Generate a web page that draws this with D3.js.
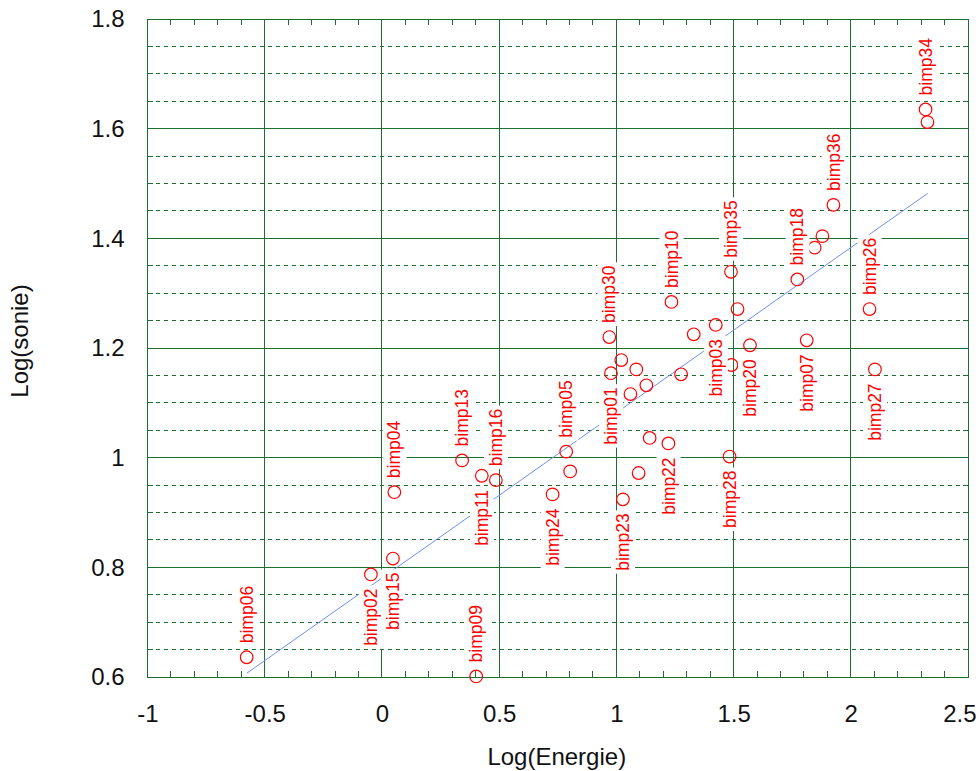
<!DOCTYPE html>
<html lang="fr">
<head>
    <meta charset="UTF-8">
    <title>Log(sonie) vs Log(Energie)</title>
    <script type="text/javascript" src="https://d3js.org/d3.v7.min.js"></script>
    <style>
        body { margin: 0; background: #fff; }
        text { font-family: "Liberation Sans", Arial, sans-serif; }
    </style>
</head>
<body>
    <svg width="979" height="771"></svg>
    <script>
        // points (labels "" = not labelled on the chart)
        var names = ["bimp06","bimp02","bimp15","bimp04","bimp09","bimp13","bimp11","bimp16","bimp24","bimp05",
                     "","bimp23","bimp22","","","bimp28","bimp01","","","",
                     "","","bimp03","","bimp20","bimp07","bimp27","bimp34","","bimp36",
                     "","bimp18","","bimp35","","bimp10","bimp30","","bimp26"];
        var logEnergie = [-0.577,-0.047,0.047,0.053,0.402,0.342,0.426,0.486,0.728,0.786,
                          0.803,1.028,1.222,1.142,1.095,1.483,0.977,1.021,1.085,1.060,
                          1.128,1.276,1.424,1.491,1.570,1.812,2.103,2.319,2.327,1.926,
                          1.879,1.772,1.846,1.489,1.517,1.235,0.970,1.330,2.080];
        var logSonie = [0.636,0.787,0.816,0.937,0.601,0.995,0.967,0.959,0.933,1.011,
                        0.975,0.924,1.026,1.036,0.972,1.002,1.154,1.178,1.161,1.116,
                        1.132,1.152,1.242,1.169,1.205,1.214,1.161,1.635,1.612,1.461,
                        1.404,1.325,1.383,1.339,1.271,1.284,1.220,1.225,1.271];
        // u = label above the point, d = below
        var labelSide = ["u","d","d","u","u","u","d","u","d","u",
                         "","d","d","","","d","d","","","",
                         "","","d","","d","d","d","u","","u",
                         "","u","","u","","u","u","","u"];
        // fitted line end points
        var fitEnergie = [-0.576, 2.328];
        var fitSonie = [0.607, 1.482];

        var xTicks = [-1,-0.5,0,0.5,1,1.5,2,2.5];
        var yTicks = [0.6,0.8,1,1.2,1.4,1.6,1.8];

        var marge = {top:19,bottom:94,left:147.5,right:11};
        var svg = d3.select("svg");
        var width = svg.attr("width") - marge.left - marge.right;
        var height = svg.attr("height") - marge.top - marge.bottom;
        var green = "#1f6d2f";

        var g = svg.append("g")
            .attr("transform","translate("+marge.left+","+marge.top+")");

        var xScale = d3.scaleLinear().domain([-1,2.5]).range([0,width]);
        var yScale = d3.scaleLinear().domain([0.6,1.8]).range([height,0]);

        // grid
        var xMajor = d3.range(-1,2.501,0.5);
        var xMinor = d3.range(-1,2.501,0.1).filter(function(v){
            return Math.abs(v*2-Math.round(v*2))>1e-6;
        });
        var yMajor = d3.range(0.6,1.801,0.2);
        var yMinor = d3.range(0.6,1.801,0.05).filter(function(v){
            return Math.abs(v*5-Math.round(v*5))>1e-6;
        });

        var grid = g.append("g").attr("shape-rendering","crispEdges");
        grid.selectAll(".vmaj").data(xMajor).enter().append("line")
            .attr("x1",function(d){return xScale(d);}).attr("x2",function(d){return xScale(d);})
            .attr("y1",0).attr("y2",height)
            .attr("stroke",green);
        grid.selectAll(".hmaj").data(yMajor).enter().append("line")
            .attr("x1",0).attr("x2",width)
            .attr("y1",function(d){return yScale(d);}).attr("y2",function(d){return yScale(d);})
            .attr("stroke",green);
        grid.selectAll(".hmin").data(yMinor).enter().append("line")
            .attr("x1",0).attr("x2",width)
            .attr("y1",function(d){return yScale(d);}).attr("y2",function(d){return yScale(d);})
            .attr("stroke",green)
            .attr("stroke-dasharray","4,4");
        // small ticks
        [0,height].forEach(function(yy){
            grid.selectAll(null).data(xMinor).enter().append("line")
                .attr("x1",function(d){return xScale(d);}).attr("x2",function(d){return xScale(d);})
                .attr("y1",yy).attr("y2",yy===0 ? 6 : height-6)
                .attr("stroke",green);
        });
        [0,width].forEach(function(xx){
            grid.selectAll(null).data(yMinor).enter().append("line")
                .attr("x1",xx).attr("x2",xx===0 ? 5 : width-5)
                .attr("y1",function(d){return yScale(d);}).attr("y2",function(d){return yScale(d);})
                .attr("stroke",green);
        });
        grid.append("rect")
            .attr("width",width).attr("height",height)
            .attr("fill","none").attr("stroke",green);

        // axes (labels only)
        var xAxis = d3.axisBottom(xScale).tickValues(xTicks).tickSize(0).tickPadding(28)
            .tickFormat(function(d){return String(d);});
        var yAxis = d3.axisLeft(yScale).tickValues(yTicks).tickSize(0).tickPadding(23)
            .tickFormat(function(d){return String(d);});
        var gx = g.append("g").attr("transform","translate(0,"+height+")").call(xAxis);
        var gy = g.append("g").call(yAxis);
        [gx,gy].forEach(function(a){
            a.select(".domain").remove();
            a.selectAll("text")
                .attr("font-size",24)
                .attr("font-family","Liberation Sans, Arial, sans-serif")
                .attr("fill","#111");
        });
        // last x label kept inside the picture
        gx.selectAll(".tick text").filter(function(d){return d===2.5;})
            .attr("text-anchor","end").attr("x",8);

        svg.append("text")
            .attr("x",marge.left+width/2-1).attr("y",765)
            .attr("text-anchor","middle")
            .attr("font-size",24).attr("fill","#111")
            .text("Log(Energie)");
        svg.append("text")
            .attr("transform","translate(28,341) rotate(-90)")
            .attr("text-anchor","middle")
            .attr("font-size",24).attr("fill","#111")
            .text("Log(sonie)");

        // fitted line
        g.append("line")
            .attr("x1",xScale(fitEnergie[0])).attr("y1",yScale(fitSonie[0]))
            .attr("x2",xScale(fitEnergie[1])).attr("y2",yScale(fitSonie[1]))
            .attr("stroke","#6f8ff2").attr("stroke-width",1);

        var points = names.map(function(n,i){
            return {name:n, x:logEnergie[i], y:logSonie[i], side:labelSide[i]};
        });

        // points
        g.selectAll(".pt").data(points).enter().append("circle")
            .attr("cx",function(d){return xScale(d.x);})
            .attr("cy",function(d){return yScale(d.y);})
            .attr("r",6.3)
            .attr("fill","none")
            .attr("stroke","#ff0000")
            .attr("stroke-width",1.2);

        // labels with white background
        var labs = g.selectAll(".lab").data(points.filter(function(d){return d.name!=="";}))
            .enter().append("g")
            .attr("transform",function(d){
                return "translate("+xScale(d.x)+","+yScale(d.y)+") rotate(-90)";
            });
        var bg = labs.append("rect").attr("fill","#fff");
        var txt = labs.append("text")
            .attr("x",function(d){return d.side==="u" ? 14 : -14;})
            .attr("dy","0.35em")
            .attr("text-anchor",function(d){return d.side==="u" ? "start" : "end";})
            .attr("font-size",17.5)
            .attr("fill","#ff0000")
            .text(function(d){return d.name;});
        txt.each(function(){
            var b = this.getBBox();
            d3.select(this.parentNode).select("rect")
                .attr("x",b.x-3).attr("y",b.y-2)
                .attr("width",b.width+6).attr("height",b.height+4);
        });
    </script>
</body>
</html>
